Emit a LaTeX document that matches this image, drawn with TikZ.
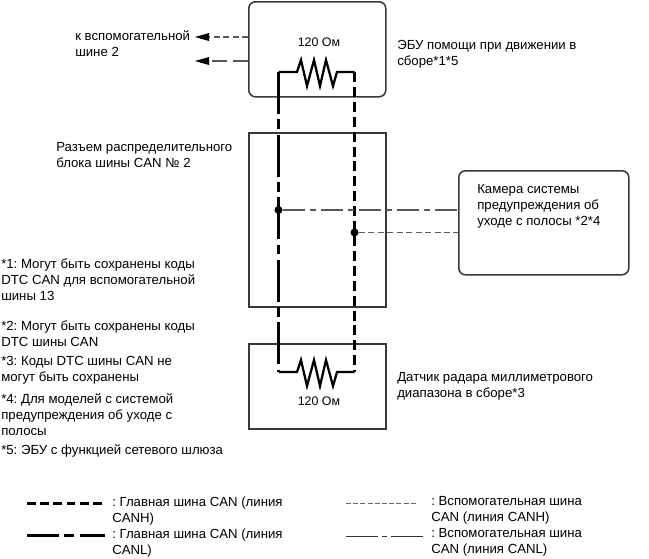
\documentclass[tikz,border=0pt]{standalone}
\usepackage{fontspec}
\setmainfont{Liberation Sans}
\tikzset{
  x=0.75pt,y=-0.75pt,
  unit/.style={draw=black!78,line width=1.15pt},
  mainh/.style={line width=2.3pt,dash pattern=on 7.5pt off 3.68pt},
  mainl/.style={line width=2.3pt,dash pattern=on 31.7pt off 3.9pt on 7.4pt off 3.9pt},
  subh/.style={draw=black!65,line width=0.8pt,dash pattern=on 4.5pt off 2.6pt},
  subl/.style={draw=black!65,line width=0.8pt,dash pattern=on 16.5pt off 3.8pt on 4.5pt off 3.8pt},
  aux/.style={draw=black!65,line width=0.8pt,dash pattern=on 11pt off 5pt},
  res/.style={line width=1.7pt,line join=miter},
  label/.style={anchor=north west,inner sep=0pt,align=left,font=\fontsize{9.9pt}{12pt}\selectfont},
  ohm/.style={anchor=center,inner sep=0pt,font=\fontsize{9.3pt}{12pt}\selectfont},
  joint/.style={circle,fill=black,inner sep=0pt,minimum size=6pt},
  head/.style={fill=black},
}
\frenchspacing
\begin{document}
\begin{tikzpicture}
\useasboundingbox (0,0) rectangle (649,558);
\fill[white] (0,0) rectangle (649,558);

% control units and connector block
\node[unit,rounded corners=5pt,minimum width=137*0.75pt,minimum height=95*0.75pt,anchor=north west,inner sep=0pt] (ecu) at (248,1) {};
\node[unit,minimum width=137*0.75pt,minimum height=174*0.75pt,anchor=north west,inner sep=0pt] (block) at (248,132) {};
\node[unit,minimum width=137*0.75pt,minimum height=85*0.75pt,anchor=north west,inner sep=0pt] (radar) at (248,343) {};
\node[unit,rounded corners=5pt,minimum width=170*0.75pt,minimum height=104*0.75pt,anchor=north west,inner sep=0pt] (cam) at (458,170) {};

% bus corners and junctions
\coordinate (tl) at (278.5,72);
\coordinate (tr) at (354.5,72);
\coordinate (bl) at (278.5,372);
\coordinate (br) at (354.5,372);
\node[joint] (jl) at (278.5,210) {};
\node[joint] (jr) at (354.5,232.5) {};
\coordinate (camL) at (458,210);
\coordinate (camH) at (458,232.5);

% terminating resistors
\draw[res] (tl) -- (297,72) -- (301,60) -- (307,86) -- (314,60) -- (320,86) -- (326,60) -- (333,86) -- (337,72) -- (tr);
\draw[res] (bl) -- (297,372) -- (301,360) -- (307,386) -- (314,360) -- (320,386) -- (326,360) -- (333,386) -- (337,372) -- (br);

% main bus
\draw[mainl] (tl) -- (bl);
\draw[mainh] (tr) -- (br);

% branches to the camera
\draw[subl] (jl) -- (camL);
\draw[subh] (jr) -- (camH);

% branches to auxiliary bus 2
\coordinate (auxh) at (248,37);
\coordinate (auxl) at (248,61);
\coordinate (auxhEnd) at (208,37);
\coordinate (auxlEnd) at (208,61);
\draw[subh] (auxh) -- (auxhEnd);
\draw[aux] (auxl) -- (auxlEnd);
\fill[head] (195,37) -- (209,33) -- (209,41) -- cycle;
\fill[head] (195,61) -- (209,57) -- (209,65) -- cycle;

% labels
\node[label] (t1) at (75,30) {к вспомогательной\\шине 2};
\node[ohm] (r1) at (319,42) {120 Ом};
\node[ohm] (r2) at (319,401) {120 Ом};
\node[label] (t2) at (397,40) {ЭБУ помощи при движении в\\сборе*1*5};
\node[label] (t3) at (56,142) {Разъем распределительного\\блока шины CAN № 2};
\node[label] (t4) at (477,184.5) {Камера системы\\предупреждения об\\уходе с полосы *2*4};
\node[label] (t5) at (397,372) {Датчик радара миллиметрового\\диапазона в сборе*3};
\node[label] (n1) at (1,259) {*1: Могут быть сохранены коды\\DTC CAN для вспомогательной\\шины 13};
\node[label] (n2) at (1,321) {*2: Могут быть сохранены коды\\DTC шины CAN};
\node[label] (n3) at (1,356) {*3: Коды DTC шины CAN не\\могут быть сохранены};
\node[label] (n4) at (1,393) {*4: Для моделей с системой\\предупреждения об уходе с\\полосы};
\node[label] (n5) at (1,444.5) {*5: ЭБУ с функцией сетевого шлюза};

% legend
\coordinate (a1) at (27,503.5); \coordinate (a2) at (105,503.5);
\coordinate (b1) at (27,535.5); \coordinate (b2) at (105,535.5);
\coordinate (c1) at (346,503.5); \coordinate (c2) at (418,503.5);
\coordinate (d1) at (346,536.5); \coordinate (d2) at (425,536.5);
\draw[line width=1.6pt,dash pattern=on 6.6pt off 3.3pt] (a1) -- (a2);
\draw[line width=1.6pt,dash pattern=on 24pt off 4pt on 7.5pt off 4pt] (b1) -- (b2);
\draw[draw=black!60,line width=0.7pt,dash pattern=on 3.8pt off 1.6pt] (c1) -- (c2);
\draw[draw=black!80,line width=0.7pt,dash pattern=on 24pt off 3pt on 4pt off 3pt] (d1) -- (d2);
\node[label] (l1) at (112,497) {: Главная шина CAN (линия\\CANH)};
\node[label] (l2) at (112,528.5) {: Главная шина CAN (линия\\CANL)};
\node[label] (l3) at (431,496) {: Вспомогательная шина\\CAN (линия CANH)};
\node[label] (l4) at (431,528.5) {: Вспомогательная шина\\CAN (линия CANL)};
\end{tikzpicture}
\end{document}
